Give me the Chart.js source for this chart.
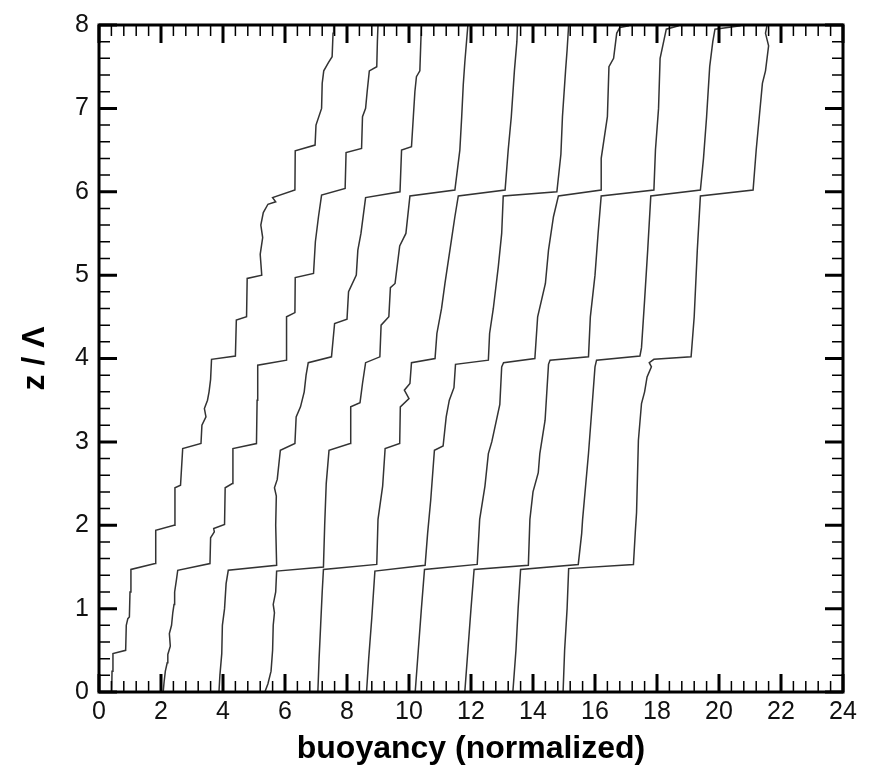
<!DOCTYPE html>
<html>
<head>
<meta charset="utf-8">
<script src="https://cdn.jsdelivr.net/npm/chart.js@4.4.1/dist/chart.umd.min.js"></script>
<style>
    html, body { margin: 0; padding: 0; background: #fff; }
    #wrap { width: 871px; height: 781px; }
</style>
</head>
<body>
<div id="wrap"><canvas id="profileChart" width="871" height="781"></canvas></div>
<script>
/* ========================================
   Buoyancy profiles - data
   ======================================== */

// axis tick labels
const xTickValues = [0, 2, 4, 6, 8, 10, 12, 14, 16, 18, 20, 22, 24];
const yTickValues = [0, 1, 2, 3, 4, 5, 6, 7, 8];

// profiles, [buoyancy, z / Lambda], left to right
const profile1 = [
    [0.41, 0], [0.42, 0.25], [0.45, 0.46], [0.86, 0.5], [0.88, 0.8], [0.93, 0.88], [0.98, 0.9],
    [1.0, 1.2], [1.03, 1.47], [1.81, 1.54], [1.83, 1.94], [2.42, 2.0], [2.45, 2.45], [2.63, 2.48],
    [2.7, 2.92], [3.29, 2.98], [3.32, 3.2], [3.45, 3.3], [3.4, 3.4], [3.5, 3.5], [3.55, 3.6],
    [3.6, 3.75], [3.63, 3.99], [4.4, 4.03], [4.43, 4.46], [4.76, 4.5], [4.78, 4.96], [5.25, 5.0],
    [5.2, 5.25], [5.28, 5.45], [5.22, 5.6], [5.3, 5.75], [5.45, 5.85], [5.7, 5.88], [5.6, 5.93],
    [6.32, 6.02], [6.33, 6.49], [6.97, 6.56], [7.0, 6.8], [7.18, 7.0], [7.2, 7.3], [7.25, 7.45],
    [7.4, 7.55], [7.52, 7.62], [7.55, 7.9], [7.57, 8.0]
];
const profile2 = [
    [2.07, 0], [2.1, 0.12], [2.14, 0.25], [2.2, 0.35], [2.22, 0.45], [2.3, 0.55], [2.27, 0.7],
    [2.34, 0.8], [2.38, 0.95], [2.42, 1.05], [2.44, 1.2], [2.5, 1.35], [2.54, 1.46], [3.58, 1.54],
    [3.6, 1.85], [3.72, 1.92], [3.7, 1.96], [4.05, 2.01], [4.07, 2.45], [4.3, 2.5], [4.32, 2.92],
    [5.08, 2.98], [5.1, 3.5], [5.12, 3.92], [6.05, 3.98], [6.05, 4.5], [6.32, 4.55], [6.33, 4.97],
    [6.92, 5.02], [6.98, 5.4], [7.08, 5.7], [7.18, 5.96], [7.94, 6.04], [7.97, 6.47], [8.47, 6.52],
    [8.5, 6.9], [8.6, 7.0], [8.65, 7.2], [8.72, 7.45], [8.96, 7.5], [8.98, 7.8], [9.0, 8.0]
];
const profile3 = [
    [3.87, 0], [3.9, 0.2], [3.96, 0.46], [3.98, 0.8], [4.05, 1.0], [4.1, 1.3], [4.17, 1.46],
    [5.73, 1.52], [5.7, 2.0], [5.72, 2.35], [5.66, 2.45], [5.75, 2.55], [5.85, 2.9], [6.32, 2.98],
    [6.36, 3.3], [6.5, 3.42], [6.62, 3.6], [6.68, 3.8], [6.75, 3.95], [7.5, 4.02], [7.6, 4.42],
    [8.0, 4.47], [8.05, 4.8], [8.3, 5.0], [8.35, 5.3], [8.45, 5.5], [8.6, 5.93], [9.71, 6.0],
    [9.76, 6.5], [10.08, 6.54], [10.14, 6.9], [10.19, 7.2], [10.24, 7.38], [10.35, 7.45], [10.4, 8.0]
];
const profile4 = [
    [5.35, 0], [5.45, 0.1], [5.55, 0.25], [5.6, 0.5], [5.62, 0.8], [5.66, 0.95], [5.62, 1.05],
    [5.7, 1.2], [5.73, 1.45], [7.24, 1.5], [7.28, 2.0], [7.33, 2.5], [7.42, 2.9], [8.1, 2.98],
    [8.12, 3.42], [8.42, 3.47], [8.5, 3.7], [8.6, 3.95], [9.06, 4.02], [9.1, 4.4], [9.35, 4.5],
    [9.4, 4.85], [9.55, 4.9], [9.7, 5.35], [9.9, 5.5], [10.03, 5.95], [11.48, 6.02], [11.64, 6.5],
    [11.7, 6.9], [11.75, 7.28], [11.8, 7.55], [11.9, 8.0]
];
const profile5 = [
    [7.06, 0], [7.1, 0.4], [7.15, 0.8], [7.2, 1.2], [7.24, 1.47], [8.96, 1.53], [9.0, 2.07],
    [9.15, 2.47], [9.23, 2.92], [9.7, 2.98], [9.72, 3.42], [10.0, 3.52], [9.85, 3.62], [10.03, 3.7],
    [10.08, 3.95], [10.84, 4.0], [10.9, 4.3], [11.05, 4.6], [11.16, 4.9], [11.38, 5.45], [11.48, 5.7],
    [11.59, 5.95], [13.1, 6.02], [13.2, 6.5], [13.3, 6.9], [13.4, 7.45], [13.48, 7.8], [13.5, 8.0]
];
const profile6 = [
    [8.63, 0], [8.7, 0.4], [8.8, 0.89], [8.9, 1.45], [10.52, 1.52], [10.6, 1.9], [10.7, 2.3],
    [10.82, 2.9], [11.1, 2.95], [11.2, 3.3], [11.3, 3.5], [11.45, 3.65], [11.5, 3.93], [12.56, 3.98],
    [12.6, 4.3], [12.72, 4.6], [12.88, 5.1], [12.99, 5.5], [13.04, 5.95], [14.77, 6.0], [14.9, 6.45],
    [14.95, 6.9], [15.05, 7.45], [15.1, 7.7], [15.15, 8.0]
];
const profile7 = [
    [10.2, 0], [10.3, 0.5], [10.4, 1.0], [10.5, 1.47], [12.2, 1.53], [12.28, 2.07], [12.45, 2.47],
    [12.56, 2.86], [12.67, 3.0], [12.93, 3.45], [12.99, 3.9], [13.05, 3.95], [14.06, 4.0], [14.15, 4.5],
    [14.4, 4.9], [14.5, 5.3], [14.66, 5.7], [14.82, 5.95], [16.2, 6.02], [16.2, 6.4], [16.4, 6.9],
    [16.45, 7.5], [16.6, 7.6], [16.7, 7.9], [16.8, 7.97], [17.1, 7.99]
];
const profile8 = [
    [11.8, 0], [11.9, 0.5], [12.0, 1.0], [12.1, 1.47], [13.85, 1.52], [13.9, 2.07], [14.0, 2.4],
    [14.17, 2.63], [14.22, 2.86], [14.39, 3.26], [14.5, 3.93], [14.55, 3.98], [15.79, 4.02], [15.85, 4.5],
    [16.0, 5.0], [16.1, 5.5], [16.2, 5.95], [17.9, 6.02], [17.95, 6.5], [18.05, 7.0], [18.1, 7.6],
    [18.3, 7.95], [18.7, 7.99]
];
const profile9 = [
    [13.35, 0], [13.45, 0.5], [13.52, 1.0], [13.6, 1.47], [15.46, 1.53], [15.57, 1.9], [15.6, 2.07],
    [15.79, 2.86], [15.9, 3.4], [16.0, 3.9], [16.05, 3.98], [17.45, 4.03], [17.5, 4.13], [17.6, 4.7],
    [17.7, 5.3], [17.8, 5.95], [19.4, 6.02], [19.5, 6.4], [19.6, 6.9], [19.7, 7.5], [19.8, 7.8],
    [19.87, 7.95], [20.7, 7.99]
];
const profile10 = [
    [14.97, 0], [15.02, 0.5], [15.1, 1.0], [15.15, 1.48], [17.24, 1.53], [17.3, 1.92], [17.34, 2.15],
    [17.4, 3.02], [17.5, 3.46], [17.6, 3.6], [17.68, 3.78], [17.82, 3.9], [17.75, 3.95], [17.9, 3.99],
    [19.1, 4.02], [19.2, 4.5], [19.3, 5.3], [19.4, 5.95], [21.1, 6.02], [21.2, 6.5], [21.3, 6.9],
    [21.4, 7.3], [21.5, 7.45], [21.6, 7.75], [21.5, 7.9], [21.55, 8.0]
];

const profiles = [profile1, profile2, profile3, profile4, profile5,
                  profile6, profile7, profile8, profile9, profile10];

/* ========================================
   Frame and inward ticks
   ======================================== */

const frameTicks = {
    id: 'frameTicks',
    afterDatasetsDraw(chart) {
        const { ctx, chartArea: a, scales: { x, y } } = chart;
        ctx.save();
        ctx.strokeStyle = '#000';
        ctx.lineCap = 'butt';

        const xStep = (xTickValues[1] - xTickValues[0]) / 5;
        const yStep = (yTickValues[1] - yTickValues[0]) / 5;

        // x ticks, bottom and top
        for (let v = x.min; v <= x.max + 1e-6; v += xStep) {
            const px = x.getPixelForValue(v);
            const major = xTickValues.some(t => Math.abs(t - v) < 1e-6);
            const len = major ? 18 : 11;
            ctx.lineWidth = major ? 3 : 1.5;
            ctx.beginPath();
            ctx.moveTo(px, a.bottom); ctx.lineTo(px, a.bottom - len);
            ctx.moveTo(px, a.top); ctx.lineTo(px, a.top + len);
            ctx.stroke();
        }
        // y ticks, left and right
        for (let v = y.min; v <= y.max + 1e-6; v += yStep) {
            const py = y.getPixelForValue(v);
            const major = yTickValues.some(t => Math.abs(t - v) < 1e-6);
            const len = major ? 18 : 11;
            ctx.lineWidth = major ? 3 : 1.5;
            ctx.beginPath();
            ctx.moveTo(a.left, py); ctx.lineTo(a.left + len, py);
            ctx.moveTo(a.right, py); ctx.lineTo(a.right - len, py);
            ctx.stroke();
        }

        ctx.lineWidth = 3;
        ctx.strokeRect(a.left, a.top, a.right - a.left, a.bottom - a.top);
        ctx.restore();
    }
};

/* ========================================
   Chart
   ======================================== */

function initProfileChart() {
    const canvas = document.getElementById('profileChart');
    const ctx = canvas.getContext('2d');
    const tickFont = { family: '"Liberation Sans", Arial, sans-serif', size: 25 };
    const titleFont = { family: '"Liberation Sans", Arial, sans-serif', size: 32, weight: 'bold' };

    new Chart(ctx, {
        type: 'scatter',
        data: {
            datasets: profiles.map(p => ({
                data: p.map(([b, z]) => ({ x: b, y: z })),
                showLine: true,
                borderColor: '#333',
                borderWidth: 1.5,
                pointRadius: 0,
                tension: 0
            }))
        },
        options: {
            responsive: false,
            animation: false,
            layout: { padding: { top: 16, right: 28, left: 0, bottom: 0 } },
            plugins: {
                legend: { display: false },
                tooltip: { enabled: false }
            },
            scales: {
                x: {
                    type: 'linear',
                    min: 0,
                    max: 24,
                    afterBuildTicks: s => { s.ticks = xTickValues.map(v => ({ value: v })); },
                    afterFit: s => { s.height = 89; },
                    grid: { display: false, drawTicks: false },
                    border: { display: false },
                    ticks: { font: tickFont, color: '#111', padding: 5, maxRotation: 0 },
                    title: {
                        display: true,
                        text: 'buoyancy (normalized)',
                        font: titleFont,
                        color: '#000',
                        padding: { top: 0, bottom: 13 }
                    }
                },
                y: {
                    type: 'linear',
                    min: 0,
                    max: 8,
                    afterBuildTicks: s => { s.ticks = yTickValues.map(v => ({ value: v })); },
                    afterFit: s => { s.width = 99; },
                    grid: { display: false, drawTicks: false },
                    border: { display: false },
                    ticks: { font: tickFont, color: '#111', padding: 10 },
                    title: {
                        display: true,
                        text: 'z / Λ',
                        font: titleFont,
                        color: '#000',
                        padding: { top: 16, bottom: 0 }
                    }
                }
            }
        },
        plugins: [frameTicks]
    });
}

document.addEventListener('DOMContentLoaded', initProfileChart);
</script>
</body>
</html>
